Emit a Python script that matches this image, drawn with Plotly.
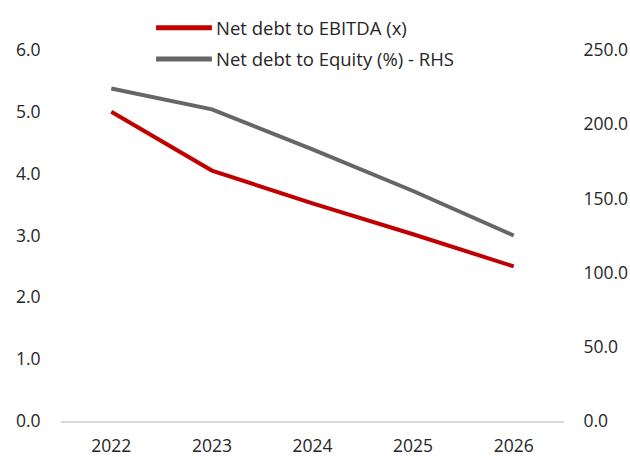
import plotly.graph_objects as go

years = ["2022", "2023", "2024", "2025", "2026"]
net_debt_ebitda = [5.0, 4.05, 3.52, 3.02, 2.5]
net_debt_equity = [224.0, 210.0, 183.0, 155.0, 125.0]
series_names = ["Net debt to EBITDA (x)", "Net debt to Equity (%) - RHS"]
series_colors = ["#C00000", "#666666"]

fig = go.Figure()
fig.add_trace(go.Scatter(
    x=years, y=net_debt_ebitda, name=series_names[0], mode="lines",
    line=dict(color=series_colors[0], width=4), yaxis="y", showlegend=False))
fig.add_trace(go.Scatter(
    x=years, y=net_debt_equity, name=series_names[1], mode="lines",
    line=dict(color=series_colors[1], width=4), yaxis="y2", showlegend=False))

font = dict(family="Open Sans", size=18.5, color="#262626")
tick_font = dict(family="Open Sans", size=17.5, color="#262626")

# custom legend (line swatch + label) placed in paper coordinates
legend_rows_y = [1.060, 0.976]
for name, color, ly in zip(series_names, series_colors, legend_rows_y):
    fig.add_shape(type="line", xref="paper", yref="paper",
                  x0=0.189, x1=0.300, y0=ly, y1=ly,
                  line=dict(color=color, width=5))
    fig.add_annotation(xref="paper", yref="paper", x=0.304, y=ly,
                       text=name, showarrow=False, xanchor="left",
                       yanchor="middle", font=font)

fig.update_layout(
    width=630, height=457,
    margin=dict(l=61, r=66, t=50, b=36, autoexpand=False),
    paper_bgcolor="white", plot_bgcolor="white",
    font=font,
    showlegend=False,
    xaxis=dict(type="category", range=[-0.5, 4.5], showgrid=False, showline=True,
               linecolor="#D9D9D9", linewidth=2, ticks="outside",
               tickcolor="white", ticklen=8, zeroline=False, tickfont=tick_font),
    yaxis=dict(range=[0, 6], dtick=1, tickformat=".1f", showgrid=False,
               zeroline=False, showline=False, ticks="outside",
               tickcolor="white", ticklen=16, tickfont=tick_font),
    yaxis2=dict(range=[0, 250], dtick=50, tickformat=".1f", overlaying="y",
                side="right", showgrid=False, zeroline=False, showline=False,
                ticks="outside", tickcolor="white", ticklen=15, tickfont=tick_font),
)
fig.write_html("out.html", config={"displayModeBar": False},
               post_script="document.body.style.margin='0';document.body.style.overflow='hidden';")
